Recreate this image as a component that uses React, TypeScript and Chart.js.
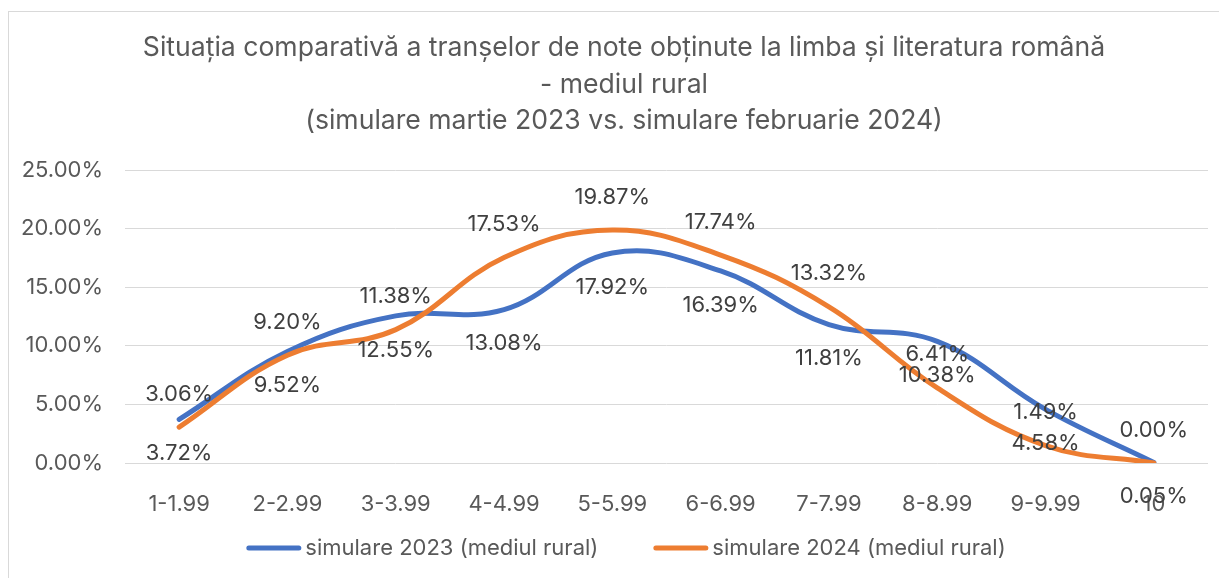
import React, { useEffect, useRef } from "react";
import { Chart, registerables } from "chart.js";

Chart.register(...registerables);

const categories = ["1-1.99", "2-2.99", "3-3.99", "4-4.99", "5-5.99", "6-6.99", "7-7.99", "8-8.99", "9-9.99", "10"];
const sim2023 = [3.72, 9.52, 12.55, 13.08, 17.92, 16.39, 11.81, 10.38, 4.58, 0.05];
const sim2024 = [3.06, 9.2, 11.38, 17.53, 19.87, 17.74, 13.32, 6.41, 1.49, 0.0];
const seriesNames = ["simulare 2023 (mediul rural)", "simulare 2024 (mediul rural)"];
const titleLines = [
  "Situația comparativă a tranșelor de note obținute la limba și literatura română",
  "- mediul rural",
  "(simulare martie 2023 vs. simulare februarie 2024)",
];

const FONT = "Inter, 'Noto Sans', sans-serif";
const W = 1219;
const H = 578;
const TXT = 22;

const labelPlugin = {
  id: "pointLabels",
  afterDatasetsDraw(chart: any) {
    const ctx = chart.ctx;
    ctx.save();
    ctx.font = `${TXT}px ${FONT}`;
    ctx.fillStyle = "#404040";
    ctx.textAlign = "center";
    ctx.textBaseline = "middle";
    chart.data.datasets.forEach((ds: any, di: number) => {
      const meta = chart.getDatasetMeta(di);
      const off = ds.labelOffset as number;
      meta.data.forEach((pt: any, i: number) => {
        const v = ds.data[i] as number;
        ctx.fillText(v.toFixed(2) + "%", pt.x, pt.y + off);
      });
    });
    ctx.restore();
  },
};

const titlePlugin = {
  id: "customTitle",
  afterDraw(chart: any) {
    const ctx = chart.ctx;
    ctx.save();
    ctx.font = `26.6px ${FONT}`;
    ctx.fillStyle = "#595959";
    ctx.textAlign = "center";
    ctx.textBaseline = "middle";
    titleLines.forEach((line, i) => {
      ctx.fillText(line, 624, 48 + i * 36.5);
    });
    ctx.restore();
  },
};

const legendPlugin = {
  id: "customLegend",
  afterDraw(chart: any) {
    const ctx = chart.ctx;
    ctx.save();
    ctx.font = `${TXT}px ${FONT}`;
    const sample = 55;
    const gapText = 4;
    const gapItem = 55;
    const ds = chart.data.datasets;
    const widths = ds.map((d: any) => ctx.measureText(d.label).width);
    let total = 0;
    widths.forEach((w: number, i: number) => {
      total += sample + gapText + w + (i < widths.length - 1 ? gapItem : 0);
    });
    let x = 626 - total / 2;
    const y = 548;
    ds.forEach((d: any, i: number) => {
      ctx.strokeStyle = d.borderColor;
      ctx.lineWidth = 5;
      ctx.lineCap = "round";
      ctx.beginPath();
      ctx.moveTo(x + 2.5, y);
      ctx.lineTo(x + sample - 2.5, y);
      ctx.stroke();
      ctx.fillStyle = "#595959";
      ctx.textAlign = "left";
      ctx.textBaseline = "middle";
      ctx.fillText(d.label, x + sample + gapText, y);
      x += sample + gapText + widths[i] + gapItem;
    });
    ctx.restore();
  },
};

export default function App() {
  const ref = useRef<HTMLCanvasElement | null>(null);
  useEffect(() => {
    if (!ref.current) return;
    const chart = new Chart(ref.current, {
      type: "line",
      data: {
        labels: categories,
        datasets: [
          {
            label: seriesNames[0],
            data: sim2023,
            borderColor: "#4472C4",
            backgroundColor: "#4472C4",
            borderWidth: 5,
            borderCapStyle: "round",
            pointRadius: 0,
            tension: 0.4,
            order: 2,
            labelOffset: 34,
          } as any,
          {
            label: seriesNames[1],
            data: sim2024,
            borderColor: "#ED7D31",
            backgroundColor: "#ED7D31",
            borderWidth: 5,
            borderCapStyle: "round",
            pointRadius: 0,
            tension: 0.4,
            order: 1,
            labelOffset: -33,
          } as any,
        ],
      },
      options: {
        responsive: false,
        animation: false,
        layout: { padding: { left: 0, right: 11, top: 170, bottom: 58 } },
        plugins: {
          tooltip: { enabled: false },
          title: { display: false },
          legend: { display: false },
        },
        scales: {
          x: {
            offset: true,
            grid: { display: false },
            border: { display: false },
            ticks: { color: "#595959", font: { family: FONT, size: TXT }, padding: 20, maxRotation: 0, autoSkip: false },
            afterFit: (s: any) => {
              s.height = 57;
            },
          },
          y: {
            min: 0,
            max: 25,
            grid: { color: "#D9D9D9", lineWidth: 1, drawTicks: false },
            border: { display: false },
            ticks: {
              stepSize: 5,
              color: "#595959",
              font: { family: FONT, size: TXT },
              padding: 22,
              callback: (v: any) => Number(v).toFixed(2) + "%",
            },
            afterFit: (s: any) => {
              s.width = 125;
            },
          },
        },
      } as any,
      plugins: [labelPlugin, titlePlugin, legendPlugin],
    });
    return () => chart.destroy();
  }, []);
  return (
    <div style={{ position: "fixed", left: 0, top: 0, width: W, height: H, background: "#fff", overflow: "hidden" }}>
      <div
        style={{
          position: "absolute",
          left: 8,
          top: 11,
          width: W,
          height: H,
          border: "1px solid #D9D9D9",
          boxSizing: "border-box",
        }}
      />
      <canvas ref={ref} width={W} height={H} style={{ position: "absolute", left: 0, top: 0, width: W, height: H }} />
    </div>
  );
}
